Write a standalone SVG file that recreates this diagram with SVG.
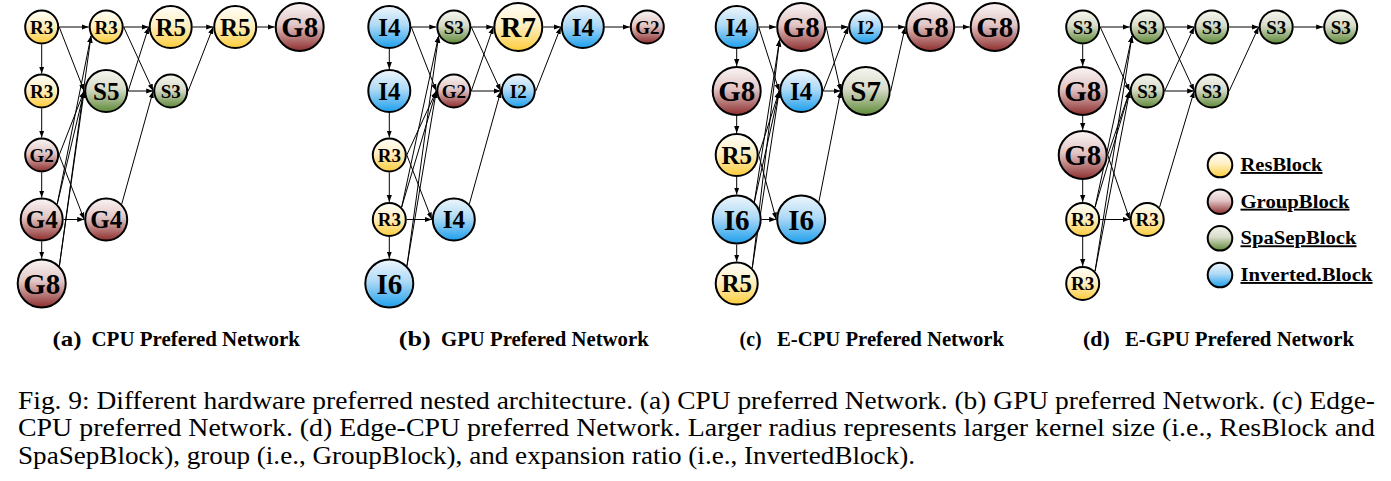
<svg xmlns="http://www.w3.org/2000/svg" width="1391" height="481" viewBox="0 0 1391 481" font-family="Liberation Serif">
<style>
.n{stroke:#000;stroke-width:2}
.t{font-weight:bold;text-anchor:middle;fill:#000}
.ts{font-size:19px}.tm{font-size:25px}.tl{font-size:29px}
.e line{stroke:#000;stroke-width:1;fill:none}
.res{fill:url(#gRes)}.grp{fill:url(#gGrp)}.spa{fill:url(#gSpa)}.inv{fill:url(#gInv)}
.sub{font-weight:bold;font-size:21px;fill:#000}
.cap{font-size:24.5px;fill:#000}
.leg{font-weight:bold;font-size:19px;text-decoration:underline;fill:#000}
</style>
<defs>
<linearGradient id="gRes" x1="0" y1="0" x2="0" y2="1"><stop offset="0" stop-color="#fffef8"/><stop offset="0.45" stop-color="#fff0c4"/><stop offset="1" stop-color="#fdcc3c"/></linearGradient>
<linearGradient id="gGrp" x1="0" y1="0" x2="0" y2="1"><stop offset="0" stop-color="#faf4f4"/><stop offset="0.45" stop-color="#e2c6c6"/><stop offset="1" stop-color="#8e2e2e"/></linearGradient>
<linearGradient id="gSpa" x1="0" y1="0" x2="0" y2="1"><stop offset="0" stop-color="#f6f6f0"/><stop offset="0.45" stop-color="#d8dcca"/><stop offset="1" stop-color="#5f8a38"/></linearGradient>
<linearGradient id="gInv" x1="0" y1="0" x2="0" y2="1"><stop offset="0" stop-color="#eef6fc"/><stop offset="0.45" stop-color="#b0daf6"/><stop offset="1" stop-color="#1e9fec"/></linearGradient>
<marker id="arr" markerUnits="userSpaceOnUse" markerWidth="8" markerHeight="6" refX="7" refY="3" orient="auto"><path d="M0,0.4 L7,3 L0,5.6 z" fill="#000"/></marker>
</defs>
<rect width="1391" height="481" fill="#fff"/>

<!-- Panel (a) -->
<g id="panel-a" transform="translate(41.7,0)">
<g id="a-connectors" class="e" marker-end="url(#arr)">
<line x1="17.5" y1="27" x2="47" y2="27"/>
<line x1="17.5" y1="27" x2="42.5" y2="91"/>
<line x1="0" y1="44.5" x2="0" y2="73.5"/>
<line x1="0" y1="108.5" x2="0" y2="137.5"/>
<line x1="0" y1="172.5" x2="0" y2="197.5"/>
<line x1="0" y1="241.5" x2="0" y2="258.5"/>
<line x1="17.5" y1="155" x2="42.5" y2="91"/>
<line x1="17.5" y1="155" x2="42.5" y2="219.5"/>
<line x1="22" y1="219.5" x2="42.5" y2="219.5"/>
<line x1="15.56" y1="203.94" x2="49.34" y2="35.75"/>
<line x1="15.56" y1="203.94" x2="42.5" y2="91"/>
<line x1="17.68" y1="265.82" x2="49.34" y2="35.75"/>
<line x1="17.68" y1="265.82" x2="42.5" y2="91"/>
<line x1="82" y1="27" x2="107" y2="27"/>
<line x1="82" y1="27" x2="111.5" y2="91"/>
<line x1="86.5" y1="91" x2="107" y2="27"/>
<line x1="86.5" y1="91" x2="111.5" y2="91"/>
<line x1="80.06" y1="203.94" x2="111.5" y2="91"/>
<line x1="151" y1="27" x2="171.5" y2="27"/>
<line x1="146.5" y1="91" x2="171.5" y2="27"/>
<line x1="215.5" y1="27" x2="233" y2="27"/>
</g>
<g id="a-n11"><circle class="n res" cx="0" cy="27" r="16.5"/><text class="t ts" x="0" y="33.5">R3</text></g>
<g id="a-n21"><circle class="n res" cx="64.5" cy="27" r="16.5"/><text class="t ts" x="64.5" y="33.5">R3</text></g>
<g id="a-n31"><circle class="n res" cx="129" cy="27" r="21"/><text class="t tm" x="129" y="35.5">R5</text></g>
<g id="a-n41"><circle class="n res" cx="193.5" cy="27" r="21"/><text class="t tm" x="193.5" y="35.5">R5</text></g>
<g id="a-n51"><circle class="n grp" cx="258" cy="27" r="24"/><text class="t tl" x="258" y="37">G8</text></g>
<g id="a-n12"><circle class="n res" cx="0" cy="91" r="16.5"/><text class="t ts" x="0" y="97.5">R3</text></g>
<g id="a-n22"><circle class="n spa" cx="64.5" cy="91" r="21"/><text class="t tm" x="64.5" y="99.5">S5</text></g>
<g id="a-n32"><circle class="n spa" cx="129" cy="91" r="16.5"/><text class="t ts" x="129" y="97.5">S3</text></g>
<g id="a-n13"><circle class="n grp" cx="0" cy="155" r="16.5"/><text class="t ts" x="0" y="161.5">G2</text></g>
<g id="a-n14"><circle class="n grp" cx="0" cy="219.5" r="21"/><text class="t tm" x="0" y="228">G4</text></g>
<g id="a-n24"><circle class="n grp" cx="64.5" cy="219.5" r="21"/><text class="t tm" x="64.5" y="228">G4</text></g>
<g id="a-n15"><circle class="n grp" cx="0" cy="283.5" r="24"/><text class="t tl" x="0" y="293.5">G8</text></g>
</g>

<!-- Panel (b) -->
<g id="panel-b" transform="translate(389.3,0)">
<g id="b-connectors" class="e" marker-end="url(#arr)">
<line x1="22" y1="27" x2="47" y2="27"/>
<line x1="22" y1="27" x2="47" y2="91"/>
<line x1="0" y1="49" x2="0" y2="69"/>
<line x1="0" y1="113" x2="0" y2="137.5"/>
<line x1="0" y1="172.5" x2="0" y2="202"/>
<line x1="0" y1="237" x2="0" y2="258.5"/>
<line x1="17.5" y1="155" x2="47" y2="91"/>
<line x1="17.5" y1="155" x2="42.5" y2="219.5"/>
<line x1="17.5" y1="219.5" x2="42.5" y2="219.5"/>
<line x1="12.37" y1="207.13" x2="49.34" y2="35.75"/>
<line x1="12.37" y1="207.13" x2="47" y2="91"/>
<line x1="17.68" y1="265.82" x2="49.34" y2="35.75"/>
<line x1="17.68" y1="265.82" x2="47" y2="91"/>
<line x1="82" y1="27" x2="104" y2="27"/>
<line x1="82" y1="27" x2="111.5" y2="91"/>
<line x1="82" y1="91" x2="104" y2="27"/>
<line x1="82" y1="91" x2="111.5" y2="91"/>
<line x1="80.06" y1="203.94" x2="111.5" y2="91"/>
<line x1="154" y1="27" x2="171.5" y2="27"/>
<line x1="146.5" y1="91" x2="171.5" y2="27"/>
<line x1="215.5" y1="27" x2="240.5" y2="27"/>
</g>
<g id="b-n11"><circle class="n inv" cx="0" cy="27" r="21"/><text class="t tm" x="0" y="35.5">I4</text></g>
<g id="b-n21"><circle class="n spa" cx="64.5" cy="27" r="16.5"/><text class="t ts" x="64.5" y="33.5">S3</text></g>
<g id="b-n31"><circle class="n res" cx="129" cy="27" r="24"/><text class="t tl" x="129" y="37">R7</text></g>
<g id="b-n41"><circle class="n inv" cx="193.5" cy="27" r="21"/><text class="t tm" x="193.5" y="35.5">I4</text></g>
<g id="b-n51"><circle class="n grp" cx="258" cy="27" r="16.5"/><text class="t ts" x="258" y="33.5">G2</text></g>
<g id="b-n12"><circle class="n inv" cx="0" cy="91" r="21"/><text class="t tm" x="0" y="99.5">I4</text></g>
<g id="b-n22"><circle class="n grp" cx="64.5" cy="91" r="16.5"/><text class="t ts" x="64.5" y="97.5">G2</text></g>
<g id="b-n32"><circle class="n inv" cx="129" cy="91" r="16.5"/><text class="t ts" x="129" y="97.5">I2</text></g>
<g id="b-n13"><circle class="n res" cx="0" cy="155" r="16.5"/><text class="t ts" x="0" y="161.5">R3</text></g>
<g id="b-n14"><circle class="n res" cx="0" cy="219.5" r="16.5"/><text class="t ts" x="0" y="226">R3</text></g>
<g id="b-n24"><circle class="n inv" cx="64.5" cy="219.5" r="21"/><text class="t tm" x="64.5" y="228">I4</text></g>
<g id="b-n15"><circle class="n inv" cx="0" cy="283.5" r="24"/><text class="t tl" x="0" y="293.5">I6</text></g>
</g>

<!-- Panel (c) -->
<g id="panel-c" transform="translate(736.7,0)">
<g id="c-connectors" class="e" marker-end="url(#arr)">
<line x1="22" y1="27" x2="39.5" y2="27"/>
<line x1="22" y1="27" x2="42.5" y2="91"/>
<line x1="0" y1="49" x2="0" y2="66"/>
<line x1="0" y1="116" x2="0" y2="133"/>
<line x1="0" y1="177" x2="0" y2="194.5"/>
<line x1="0" y1="244.5" x2="0" y2="261.5"/>
<line x1="22" y1="155" x2="42.5" y2="91"/>
<line x1="22" y1="155" x2="39.5" y2="219.5"/>
<line x1="25" y1="219.5" x2="39.5" y2="219.5"/>
<line x1="17.68" y1="201.82" x2="42.85" y2="39.5"/>
<line x1="17.68" y1="201.82" x2="42.5" y2="91"/>
<line x1="15.56" y1="267.94" x2="42.85" y2="39.5"/>
<line x1="15.56" y1="267.94" x2="42.5" y2="91"/>
<line x1="89.5" y1="27" x2="111.5" y2="27"/>
<line x1="89.5" y1="27" x2="104" y2="91"/>
<line x1="86.5" y1="91" x2="111.5" y2="27"/>
<line x1="86.5" y1="91" x2="104" y2="91"/>
<line x1="82.18" y1="201.82" x2="104" y2="91"/>
<line x1="146.5" y1="27" x2="168.5" y2="27"/>
<line x1="154" y1="91" x2="168.5" y2="27"/>
<line x1="218.5" y1="27" x2="233" y2="27"/>
</g>
<g id="c-n11"><circle class="n inv" cx="0" cy="27" r="21"/><text class="t tm" x="0" y="35.5">I4</text></g>
<g id="c-n21"><circle class="n grp" cx="64.5" cy="27" r="24"/><text class="t tl" x="64.5" y="37">G8</text></g>
<g id="c-n31"><circle class="n inv" cx="129" cy="27" r="16.5"/><text class="t ts" x="129" y="33.5">I2</text></g>
<g id="c-n41"><circle class="n grp" cx="193.5" cy="27" r="24"/><text class="t tl" x="193.5" y="37">G8</text></g>
<g id="c-n51"><circle class="n grp" cx="258" cy="27" r="24"/><text class="t tl" x="258" y="37">G8</text></g>
<g id="c-n12"><circle class="n grp" cx="0" cy="91" r="24"/><text class="t tl" x="0" y="101">G8</text></g>
<g id="c-n22"><circle class="n inv" cx="64.5" cy="91" r="21"/><text class="t tm" x="64.5" y="99.5">I4</text></g>
<g id="c-n32"><circle class="n spa" cx="129" cy="91" r="24"/><text class="t tl" x="129" y="101">S7</text></g>
<g id="c-n13"><circle class="n res" cx="0" cy="155" r="21"/><text class="t tm" x="0" y="163.5">R5</text></g>
<g id="c-n14"><circle class="n inv" cx="0" cy="219.5" r="24"/><text class="t tl" x="0" y="229.5">I6</text></g>
<g id="c-n24"><circle class="n inv" cx="64.5" cy="219.5" r="24"/><text class="t tl" x="64.5" y="229.5">I6</text></g>
<g id="c-n15"><circle class="n res" cx="0" cy="283.5" r="21"/><text class="t tm" x="0" y="292">R5</text></g>
</g>

<!-- Panel (d) -->
<g id="panel-d" transform="translate(1082.7,0)">
<g id="d-connectors" class="e" marker-end="url(#arr)">
<line x1="17.5" y1="27" x2="47" y2="27"/>
<line x1="17.5" y1="27" x2="47" y2="91"/>
<line x1="0" y1="44.5" x2="0" y2="66"/>
<line x1="0" y1="116" x2="0" y2="130"/>
<line x1="0" y1="180" x2="0" y2="202"/>
<line x1="0" y1="237" x2="0" y2="266"/>
<line x1="25" y1="155" x2="47" y2="91"/>
<line x1="25" y1="155" x2="47" y2="219.5"/>
<line x1="17.5" y1="219.5" x2="47" y2="219.5"/>
<line x1="12.37" y1="207.13" x2="49.34" y2="35.75"/>
<line x1="12.37" y1="207.13" x2="47" y2="91"/>
<line x1="12.37" y1="271.13" x2="49.34" y2="35.75"/>
<line x1="12.37" y1="271.13" x2="47" y2="91"/>
<line x1="82" y1="27" x2="111.5" y2="27"/>
<line x1="82" y1="27" x2="111.5" y2="91"/>
<line x1="82" y1="91" x2="111.5" y2="27"/>
<line x1="82" y1="91" x2="111.5" y2="91"/>
<line x1="76.87" y1="207.13" x2="111.5" y2="91"/>
<line x1="146.5" y1="27" x2="176" y2="27"/>
<line x1="146.5" y1="91" x2="176" y2="27"/>
<line x1="211" y1="27" x2="240.5" y2="27"/>
</g>
<g id="d-n11"><circle class="n spa" cx="0" cy="27" r="16.5"/><text class="t ts" x="0" y="33.5">S3</text></g>
<g id="d-n21"><circle class="n spa" cx="64.5" cy="27" r="16.5"/><text class="t ts" x="64.5" y="33.5">S3</text></g>
<g id="d-n31"><circle class="n spa" cx="129" cy="27" r="16.5"/><text class="t ts" x="129" y="33.5">S3</text></g>
<g id="d-n41"><circle class="n spa" cx="193.5" cy="27" r="16.5"/><text class="t ts" x="193.5" y="33.5">S3</text></g>
<g id="d-n51"><circle class="n spa" cx="258" cy="27" r="16.5"/><text class="t ts" x="258" y="33.5">S3</text></g>
<g id="d-n12"><circle class="n grp" cx="0" cy="91" r="24"/><text class="t tl" x="0" y="101">G8</text></g>
<g id="d-n22"><circle class="n spa" cx="64.5" cy="91" r="16.5"/><text class="t ts" x="64.5" y="97.5">S3</text></g>
<g id="d-n32"><circle class="n spa" cx="129" cy="91" r="16.5"/><text class="t ts" x="129" y="97.5">S3</text></g>
<g id="d-n13"><circle class="n grp" cx="0" cy="155" r="24"/><text class="t tl" x="0" y="165">G8</text></g>
<g id="d-n14"><circle class="n res" cx="0" cy="219.5" r="16.5"/><text class="t ts" x="0" y="226">R3</text></g>
<g id="d-n24"><circle class="n res" cx="64.5" cy="219.5" r="16.5"/><text class="t ts" x="64.5" y="226">R3</text></g>
<g id="d-n15"><circle class="n res" cx="0" cy="283.5" r="16.5"/><text class="t ts" x="0" y="290">R3</text></g>
</g>

<!-- Legend -->
<g id="legend">
<g id="legend-res"><circle class="n res" cx="1220" cy="165" r="12.3"/><text class="leg" x="1240.5" y="171" textLength="82" lengthAdjust="spacingAndGlyphs">ResBlock</text></g>
<g id="legend-grp"><circle class="n grp" cx="1220" cy="201.7" r="12.3"/><text class="leg" x="1240.5" y="207.7" textLength="109" lengthAdjust="spacingAndGlyphs">GroupBlock</text></g>
<g id="legend-spa"><circle class="n spa" cx="1220" cy="238.3" r="12.3"/><text class="leg" x="1240.5" y="244.3" textLength="116" lengthAdjust="spacingAndGlyphs">SpaSepBlock</text></g>
<g id="legend-inv"><circle class="n inv" cx="1220" cy="275" r="12.3"/><text class="leg" x="1240.5" y="281" textLength="132" lengthAdjust="spacingAndGlyphs">Inverted.Block</text></g>
</g>

<!-- Sub-captions -->
<g id="subcaptions">
<text class="sub" x="52.5" y="345.5" textLength="29" lengthAdjust="spacingAndGlyphs">(a)</text>
<text class="sub" x="91.5" y="345.5" textLength="208.5" lengthAdjust="spacingAndGlyphs">CPU Prefered Network</text>
<text class="sub" x="398.7" y="345.5" textLength="32" lengthAdjust="spacingAndGlyphs">(b)</text>
<text class="sub" x="441" y="345.5" textLength="207.7" lengthAdjust="spacingAndGlyphs">GPU Prefered Network</text>
<text class="sub" x="739.6" y="345.5" textLength="22" lengthAdjust="spacingAndGlyphs">(c)</text>
<text class="sub" x="777" y="345.5" textLength="227" lengthAdjust="spacingAndGlyphs">E-CPU Prefered Network</text>
<text class="sub" x="1083" y="345.5" textLength="26.7" lengthAdjust="spacingAndGlyphs">(d)</text>
<text class="sub" x="1125" y="345.5" textLength="229" lengthAdjust="spacingAndGlyphs">E-GPU Prefered Network</text>
</g>

<!-- Caption -->
<g id="caption">
<text class="cap" x="18" y="408.5" textLength="1357" lengthAdjust="spacingAndGlyphs">Fig. 9: Different hardware preferred nested architecture. (a) CPU preferred Network. (b) GPU preferred Network. (c) Edge-</text>
<text class="cap" x="18" y="436" textLength="1357" lengthAdjust="spacingAndGlyphs">CPU preferred Network. (d) Edge-CPU preferred Network. Larger radius represents larger kernel size (i.e., ResBlock and</text>
<text class="cap" x="18" y="463.5" textLength="897" lengthAdjust="spacingAndGlyphs">SpaSepBlock), group (i.e., GroupBlock), and expansion ratio (i.e., InvertedBlock).</text>
</g>
</svg>
